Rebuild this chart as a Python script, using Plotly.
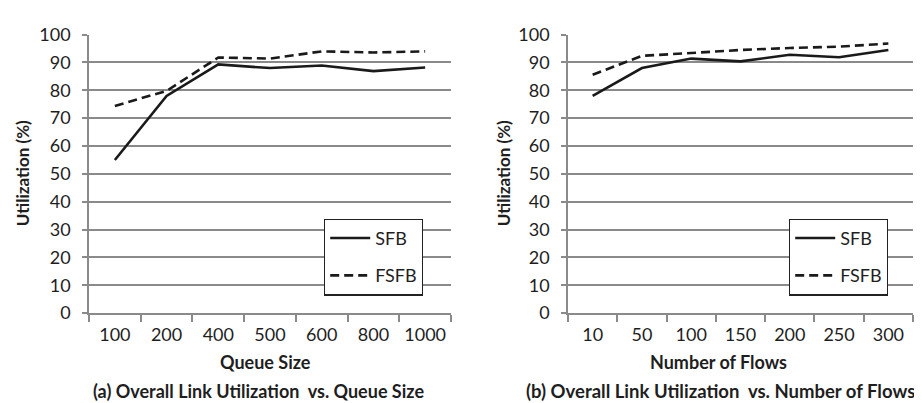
import plotly.graph_objects as go

queue_sizes = ["100", "200", "400", "500", "600", "800", "1000"]
sfb_queue = [55, 78, 89.3, 88, 88.9, 86.9, 88.2]
fsfb_queue = [74.4, 79.8, 91.8, 91.4, 94, 93.6, 94]

flows = ["10", "50", "100", "150", "200", "250", "300"]
sfb_flows = [78, 88, 91.4, 90.4, 92.8, 91.9, 94.5]
fsfb_flows = [85.6, 92.4, 93.4, 94.5, 95.2, 95.7, 96.8]

y_ticks = list(range(0, 101, 10))

FONT = "Lato"
GRID = "#8a8a8a"
INK = "#1a1a1a"
TXT = "#1e1e1e"

fig = go.Figure()

def add_pair(x, sfb, fsfb, xa, ya, legend):
    fig.add_trace(go.Scatter(x=x, y=sfb, name="SFB", mode="lines", xaxis=xa, yaxis=ya,
                             line=dict(color=INK, width=2.6), legend=legend, legendgroup=legend + "a"))
    fig.add_trace(go.Scatter(x=x, y=fsfb, name="FSFB", mode="lines", xaxis=xa, yaxis=ya,
                             line=dict(color=INK, width=2.6, dash="9px,5px"), legend=legend,
                             legendgroup=legend + "b"))

add_pair(queue_sizes, sfb_queue, fsfb_queue, "x", "y", "legend")
add_pair(flows, sfb_flows, fsfb_flows, "x2", "y2", "legend2")

H = 403
W = 922
y_dom = [1 - 310 / H, 1 - 15.5 / H]

xcommon = dict(type="category", range=[-0.5, 6.5], showgrid=False, showline=True, linecolor=GRID,
               linewidth=1.5, ticks="outside", tickson="boundaries", ticklen=7, tickwidth=1.5,
               tickcolor=GRID, tickfont=dict(family=FONT, size=18, color=TXT), tickangle=0,
               ticklabelstandoff=5, zeroline=False, fixedrange=True)
ycommon = dict(range=[0, 100], tickvals=y_ticks, showgrid=True, gridcolor=GRID, gridwidth=1.5,
               showline=True, linecolor=GRID, linewidth=1.5, ticks="outside", ticklen=5,
               tickwidth=1.5, tickcolor=GRID, tickfont=dict(family=FONT, size=18, color=TXT),
               ticklabelstandoff=8, zeroline=False, fixedrange=True)

legcommon = dict(bordercolor="#222", borderwidth=1.2, bgcolor="white",
                 font=dict(family=FONT, size=18, color=TXT), xanchor="left", yanchor="top",
                 tracegroupgap=11, traceorder="grouped", itemwidth=40, entrywidth=112)

def ann(text, x, y, size, angle=0):
    return dict(text=text, x=x / W, y=1 - y / H, xref="paper", yref="paper", xanchor="center",
                yanchor="middle", showarrow=False, textangle=angle,
                font=dict(family=FONT, size=size, color=TXT))

fig.update_layout(
    width=W, height=H, margin=dict(l=0, r=0, t=0, b=0),
    paper_bgcolor="white", plot_bgcolor="white", showlegend=True,
    xaxis=dict(xcommon, domain=[81 / W, 443 / W], anchor="y"),
    yaxis=dict(ycommon, domain=y_dom, anchor="x"),
    xaxis2=dict(xcommon, domain=[560 / W, 905 / W], anchor="y2"),
    yaxis2=dict(ycommon, domain=y_dom, anchor="x2"),
    legend=dict(legcommon, x=316 / W, y=1 - 210 / H),
    legend2=dict(legcommon, x=781 / W, y=1 - 210 / H),
    annotations=[
        ann("<b>Queue Size</b>", 257, 362, 18),
        ann("<b>Number of Flows</b>", 710, 362, 18),
        ann("<b>Utilization (%)</b>", 14, 162, 17, -90),
        ann("<b>Utilization (%)</b>", 495, 162, 17, -90),
        ann("<b>(a) Overall Link Utilization  vs. Queue Size</b>", 250, 392, 18),
        ann("<b>(b) Overall Link Utilization  vs. Number of Flows</b>", 712, 392, 18.5),
    ],
)

fig.write_html("out.html")
